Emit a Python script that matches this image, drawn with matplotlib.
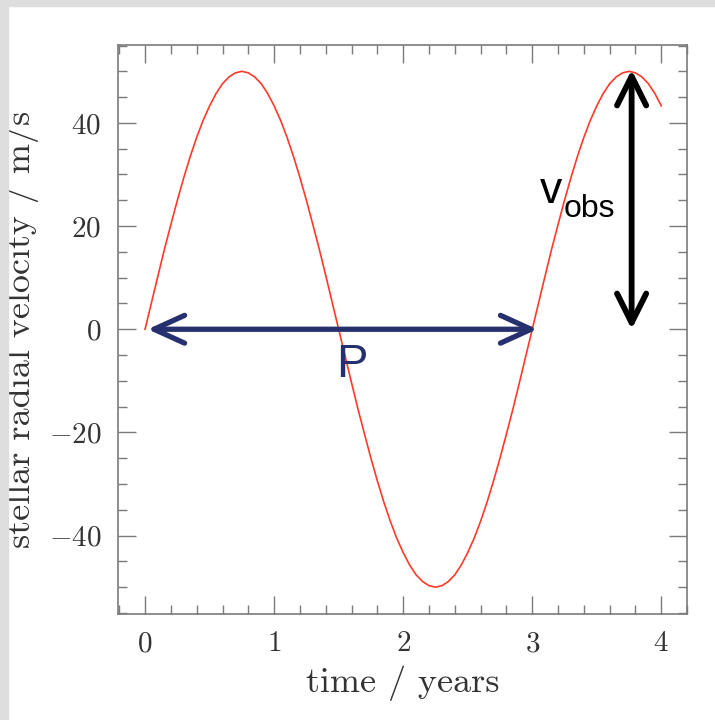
import matplotlib
matplotlib.use("Agg")
import matplotlib.pyplot as plt
from matplotlib.patches import Rectangle
from matplotlib.ticker import MultipleLocator

# curve, every 0.05 year from 0 to 4
time_years = [i * 0.05 for i in range(81)]
velocity = [0.0, 5.2, 10.4, 15.5, 20.3, 25.0, 29.4, 33.5, 37.2, 40.5,
            43.3, 45.7, 47.6, 48.9, 49.7, 50.0, 49.7, 48.9, 47.6, 45.7,
            43.3, 40.5, 37.2, 33.5, 29.4, 25.0, 20.3, 15.5, 10.4, 5.2,
            0.0, -5.2, -10.4, -15.5, -20.3, -25.0, -29.4, -33.5, -37.2, -40.5,
            -43.3, -45.7, -47.6, -48.9, -49.7, -50.0, -49.7, -48.9, -47.6, -45.7,
            -43.3, -40.5, -37.2, -33.5, -29.4, -25.0, -20.3, -15.5, -10.4, -5.2,
            0.0, 5.2, 10.4, 15.5, 20.3, 25.0, 29.4, 33.5, 37.2, 40.5,
            43.3, 45.7, 47.6, 48.9, 49.7, 50.0, 49.7, 48.9, 47.6, 45.7, 43.3]

period_start, period_end = 0.02, 3.04
vobs_time, vobs_low, vobs_high = 3.77, 0.0, 50.3

plt.rcParams['font.family'] = 'cmr10'
plt.rcParams['axes.formatter.use_mathtext'] = True

fig = plt.figure(figsize=(7.15, 7.2), dpi=100)
# grey frame strips on the left and top
fig.patches.append(Rectangle((0, 0), 8/715, 1, transform=fig.transFigure,
                             color='#dedede', zorder=0))
fig.patches.append(Rectangle((0, 1-6/720), 1, 6/720, transform=fig.transFigure,
                             color='#dedede', zorder=0))

ax = fig.add_axes([0.165, 0.1472, 0.796, 0.7903])
ax.plot(time_years, velocity, color='#ff3a2a', lw=1.2)

ax.set_xlim(-0.21, 4.2)
ax.set_ylim(-55.2, 55.1)
ax.xaxis.set_major_locator(MultipleLocator(1))
ax.xaxis.set_minor_locator(MultipleLocator(0.2))
ax.yaxis.set_major_locator(MultipleLocator(20))
ax.yaxis.set_minor_locator(MultipleLocator(5))
ax.tick_params(which='both', direction='in', top=True, right=True,
               color='#7a7a7a', width=1.0, labelsize=21, labelcolor='#333333')
ax.tick_params(which='major', length=13, pad=12)
ax.tick_params(which='minor', length=6.5)
for s in ax.spines.values():
    s.set_color('#7a7a7a')
    s.set_linewidth(1.2)

ax.set_xlabel('time / years', fontsize=26, color='#333333', labelpad=6)
ax.set_ylabel('stellar radial velocity / m/s', fontsize=26, color='#333333', labelpad=7)

navy = '#26306e'
ax.annotate('', xy=(period_end, 0), xytext=(period_start, 0),
            arrowprops=dict(arrowstyle='<->,head_length=2.2,head_width=1.0',
                            color=navy, lw=3.8, shrinkA=0, shrinkB=0))
ax.text(1.6, -7.0, 'P', color=navy, fontsize=34, family='Liberation Sans',
        ha='center', va='center')

ax.annotate('', xy=(vobs_time, vobs_high), xytext=(vobs_time, vobs_low),
            arrowprops=dict(arrowstyle='<->,head_length=2.1,head_width=1.05',
                            color='black', lw=4.2, shrinkA=0, shrinkB=0))
ax.text(3.06, 24.5, 'v', color='black', fontsize=32, family='Liberation Sans',
        ha='left', va='baseline')
ax.text(3.24, 21.7, 'obs', color='black', fontsize=23, family='Liberation Sans',
        ha='left', va='baseline')

fig.savefig('out.png', dpi=100)
